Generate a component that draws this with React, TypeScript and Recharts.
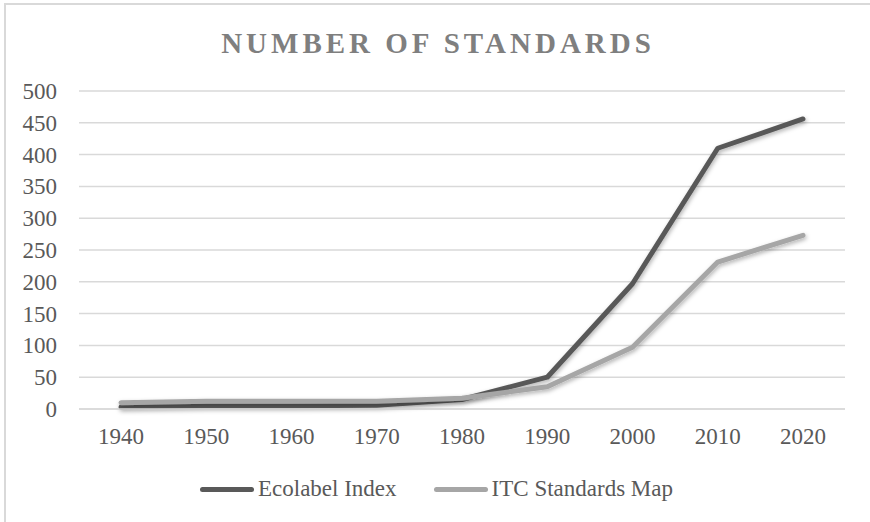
import React from 'react';
import {
  LineChart,
  Line,
  XAxis,
  YAxis,
  CartesianGrid,
  Legend,
} from 'recharts';

const years = ['1940', '1950', '1960', '1970', '1980', '1990', '2000', '2010', '2020'];
const ecolabelIndex = [3, 5, 5, 6, 15, 50, 197, 410, 456];
const itcStandardsMap = [10, 12, 12, 12, 17, 35, 97, 231, 273];
const yTicks = [0, 50, 100, 150, 200, 250, 300, 350, 400, 450, 500];

const seriesInfo = [
  { key: 'ecolabel', name: 'Ecolabel Index', color: '#595959' },
  { key: 'itc', name: 'ITC Standards Map', color: '#a6a6a6' },
];

const data = years.map((year, i) => ({
  year,
  ecolabel: ecolabelIndex[i],
  itc: itcStandardsMap[i],
}));

const FONT = '"Liberation Serif", "Times New Roman", serif';
const TICK_COLOR = '#595959';

function XTick(props: any) {
  const { x, y, payload } = props;
  return (
    <text
      x={x}
      y={y}
      dy={17}
      textAnchor="middle"
      fill={TICK_COLOR}
      fontFamily="Liberation Serif"
      fontSize={23}
    >
      {payload.value}
    </text>
  );
}

function YTick(props: any) {
  const { x, y, payload } = props;
  return (
    <text
      x={x}
      y={y}
      dy={8}
      textAnchor="end"
      fill={TICK_COLOR}
      fontFamily="Liberation Serif"
      fontSize={23}
    >
      {payload.value}
    </text>
  );
}

function LegendContent() {
  return (
    <div
      style={{
        display: 'flex',
        alignItems: 'center',
        paddingLeft: 200,
        fontFamily: FONT,
        fontSize: 23,
        color: TICK_COLOR,
      }}
    >
      {seriesInfo.map((s, i) => (
        <div
          key={s.key}
          style={{ display: 'flex', alignItems: 'center', marginRight: i === 0 ? 37 : 0 }}
        >
          <span
            style={{
              display: 'inline-block',
              width: 54,
              height: 5,
              borderRadius: 3,
              background: s.color,
              marginRight: 4,
            }}
          />
          <span>{s.name}</span>
        </div>
      ))}
    </div>
  );
}

export default function App() {
  return (
    <div
      style={{
        position: 'fixed',
        top: 0,
        left: 0,
        width: 870,
        height: 522,
        background: '#fff',
        overflow: 'hidden',
        fontFamily: FONT,
      }}
    >
      <div
        style={{
          position: 'absolute',
          top: 3,
          left: 4,
          width: 880,
          height: 540,
          borderTop: '2px solid #d9d9d9',
          borderLeft: '2px solid #d9d9d9',
        }}
      />
      <div
        style={{
          position: 'absolute',
          top: 27,
          left: 0,
          width: 876,
          textAlign: 'center',
          fontWeight: 'bold',
          fontSize: 29,
          letterSpacing: 4,
          color: '#7f7f7f',
        }}
      >
        NUMBER OF STANDARDS
      </div>
      <LineChart
        width={870}
        height={522}
        data={data}
        margin={{ top: 91, right: 25, left: 0, bottom: 83 }}
        style={{ position: 'absolute', top: 0, left: 0 }}
      >
        <defs>
          <filter id="lineShadow" x="-10%" y="-10%" width="120%" height="130%">
            <feDropShadow dx="1" dy="2" stdDeviation="2" floodColor="#000" floodOpacity="0.3" />
          </filter>
        </defs>
        <CartesianGrid vertical={false} stroke="#d9d9d9" strokeWidth={1.5} />
        <XAxis
          dataKey="year"
          height={30}
          padding={{ left: 42, right: 42 }}
          tickLine={false}
          axisLine={{ stroke: '#d9d9d9', strokeWidth: 1.5 }}
          tickSize={0}
          tickMargin={18}
          tick={<XTick />}
        />
        <YAxis
          width={79}
          domain={[0, 500]}
          ticks={yTicks}
          interval={0}
          tickLine={false}
          axisLine={false}
          tickSize={0}
          tickMargin={22}
          tick={<YTick />}
        />
        <Legend
          layout="horizontal"
          verticalAlign="middle"
          align="center"
          wrapperStyle={{ top: 476, left: 0, width: 870 }}
          content={<LegendContent />}
        />
        {seriesInfo.map((s) => (
          <Line
            key={s.key}
            type="linear"
            dataKey={s.key}
            name={s.name}
            stroke={s.color}
            strokeWidth={5}
            strokeLinecap="round"
            strokeLinejoin="round"
            dot={false}
            activeDot={false}
            filter="url(#lineShadow)"
            isAnimationActive={false}
          />
        ))}
      </LineChart>
    </div>
  );
}
